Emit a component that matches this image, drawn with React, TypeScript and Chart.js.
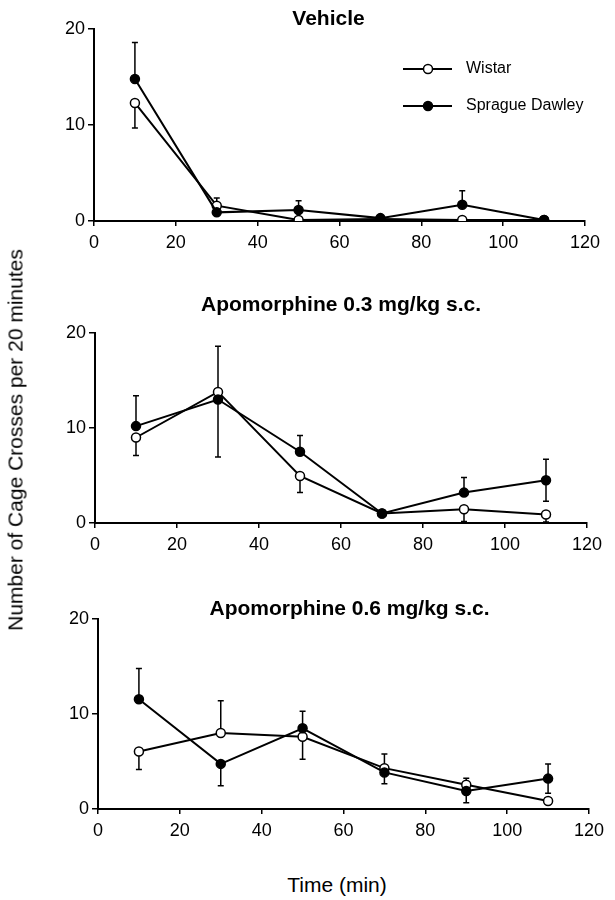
import React, { useEffect, useRef } from "react";
import { Chart, registerables } from "chart.js";

Chart.register(...registerables);

const FONT = "'Liberation Sans', Arial, Helvetica, sans-serif";

// ---------- data ----------
const times = [10, 30, 50, 70, 90, 110];
const xMin = 0;
const xMax = 120;
const xStep = 20;
const yMin = 0;
const yMax = 20;
const yStep = 10;

const seriesNames = ["Wistar", "Sprague Dawley"];
const panelTitles = ["Vehicle", "Apomorphine 0.3 mg/kg s.c.", "Apomorphine 0.6 mg/kg s.c."];
const yAxisTitle = "Number of Cage Crosses per 20 minutes";
const xAxisTitle = "Time (min)";

// Vehicle
const vehWistar = [12.3, 1.6, 0.1, 0.2, 0.1, 0.1];
const vehWistarErrPlus = [0, 0.8, 0, 0, 0, 0];
const vehWistarErrMinus = [2.6, 0, 0, 0, 0, 0];
const vehSD = [14.8, 0.9, 1.15, 0.3, 1.7, 0.1];
const vehSDErrPlus = [3.8, 0, 0.95, 0, 1.45, 0];
const vehSDErrMinus = [0, 0, 0, 0, 0, 0];

// Apomorphine 0.3 mg/kg
const apo03Wistar = [9.0, 13.8, 4.95, 1.0, 1.45, 0.9];
const apo03WistarErrPlus = [0, 4.8, 0, 0, 0, 0];
const apo03WistarErrMinus = [1.9, 0, 1.75, 0, 1.3, 0.8];
const apo03SD = [10.2, 13.0, 7.5, 1.0, 3.2, 4.5];
const apo03SDErrPlus = [3.2, 0, 1.7, 0, 1.6, 2.2];
const apo03SDErrMinus = [0, 6.05, 0, 0, 0, 2.2];

// Apomorphine 0.6 mg/kg
const apo06Wistar = [6.05, 8.0, 7.6, 4.3, 2.55, 0.85];
const apo06WistarErrPlus = [0, 3.4, 0, 1.5, 0.7, 0];
const apo06WistarErrMinus = [1.9, 0, 2.35, 0, 0, 0];
const apo06SD = [11.55, 4.75, 8.5, 3.85, 1.9, 3.2];
const apo06SDErrPlus = [3.25, 0, 1.8, 0, 0, 1.55];
const apo06SDErrMinus = [0, 2.3, 0, 1.2, 1.25, 1.55];

const panelData = [
  {
    wistar: vehWistar, wistarPlus: vehWistarErrPlus, wistarMinus: vehWistarErrMinus,
    sd: vehSD, sdPlus: vehSDErrPlus, sdMinus: vehSDErrMinus,
  },
  {
    wistar: apo03Wistar, wistarPlus: apo03WistarErrPlus, wistarMinus: apo03WistarErrMinus,
    sd: apo03SD, sdPlus: apo03SDErrPlus, sdMinus: apo03SDErrMinus,
  },
  {
    wistar: apo06Wistar, wistarPlus: apo06WistarErrPlus, wistarMinus: apo06WistarErrMinus,
    sd: apo06SD, sdPlus: apo06SDErrPlus, sdMinus: apo06SDErrMinus,
  },
];

// ---------- layout (page pixels) ----------
const panelGeom = [
  { top: 0, h: 265, areaTop: 29, areaBottom: 221, left: 94, right: 585, titleY: 19, titleDx: -11, legend: true },
  { top: 280, h: 290, areaTop: 333, areaBottom: 523, left: 95, right: 587, titleY: 305, titleDx: 0, legend: false },
  { top: 580, h: 275, areaTop: 619, areaBottom: 809, left: 98, right: 589, titleY: 609, titleDx: 6, legend: false },
];
const X_SCALE_H = 30;
const TICK_FONT = 18;

const errorBarsPlugin = {
  id: "errorBars",
  beforeDatasetsDraw(chart: any) {
    const ctx = chart.ctx;
    const xs = chart.scales.x;
    const ys = chart.scales.y;
    ctx.save();
    ctx.strokeStyle = "#000";
    ctx.lineWidth = 1.5;
    chart.data.datasets.forEach((ds: any) => {
      ds.data.forEach((pt: any, i: number) => {
        const x = xs.getPixelForValue(pt.x);
        const y0 = ys.getPixelForValue(pt.y);
        const parts: [number, number][] = [
          [ds.errPlus[i], 1],
          [ds.errMinus[i], -1],
        ];
        parts.forEach(([e, s]) => {
          if (!e) return;
          const y1 = ys.getPixelForValue(pt.y + s * e);
          ctx.beginPath();
          ctx.moveTo(x, y0);
          ctx.lineTo(x, y1);
          ctx.moveTo(x - 3, y1);
          ctx.lineTo(x + 3, y1);
          ctx.stroke();
        });
      });
    });
    ctx.restore();
  },
};

function makeTitlePlugin(text: string, y: number, dx: number) {
  return {
    id: "panelTitle",
    afterDraw(chart: any) {
      const ctx = chart.ctx;
      const a = chart.chartArea;
      ctx.save();
      ctx.fillStyle = "#000";
      ctx.font = `bold 21px ${FONT}`;
      ctx.textAlign = "center";
      ctx.textBaseline = "middle";
      ctx.fillText(text, (a.left + a.right) / 2 + dx, y);
      ctx.restore();
    },
  };
}

const legendPlugin = {
  id: "customLegend",
  afterDraw(chart: any) {
    const ctx = chart.ctx;
    const rows = [69, 106];
    ctx.save();
    chart.data.datasets.forEach((ds: any, i: number) => {
      const y = rows[i];
      ctx.strokeStyle = "#000";
      ctx.lineWidth = 2;
      ctx.beginPath();
      ctx.moveTo(403, y);
      ctx.lineTo(452, y);
      ctx.stroke();
      ctx.beginPath();
      ctx.arc(428, y, 4.5, 0, Math.PI * 2);
      ctx.fillStyle = ds.pointBackgroundColor;
      ctx.fill();
      ctx.lineWidth = 1.5;
      ctx.stroke();
      ctx.fillStyle = "#000";
      ctx.font = `16px ${FONT}`;
      ctx.textAlign = "left";
      ctx.textBaseline = "middle";
      ctx.fillText(ds.label, 466, y);
    });
    ctx.restore();
  },
};

function Panel({ idx }: { idx: number }) {
  const ref = useRef<HTMLCanvasElement>(null);
  const g = panelGeom[idx];
  useEffect(() => {
    const d = panelData[idx];
    const toPts = (vals: number[]) => times.map((t, i) => ({ x: t, y: vals[i] }));
    const plugins: any[] = [errorBarsPlugin, makeTitlePlugin(panelTitles[idx], g.titleY - g.top, g.titleDx)];
    if (g.legend) plugins.push(legendPlugin);
    const chart = new Chart(ref.current as HTMLCanvasElement, {
      type: "line",
      data: {
        datasets: [
          {
            label: seriesNames[0],
            data: toPts(d.wistar),
            errPlus: d.wistarPlus,
            errMinus: d.wistarMinus,
            borderColor: "#000",
            borderWidth: 2,
            pointRadius: 4.5,
            pointBorderWidth: 1.5,
            pointBackgroundColor: "#fff",
            pointBorderColor: "#000",
            tension: 0,
            order: 1,
          } as any,
          {
            label: seriesNames[1],
            data: toPts(d.sd),
            errPlus: d.sdPlus,
            errMinus: d.sdMinus,
            borderColor: "#000",
            borderWidth: 2,
            pointRadius: 4.5,
            pointBorderWidth: 1.5,
            pointBackgroundColor: "#000",
            pointBorderColor: "#000",
            tension: 0,
            order: 0,
          } as any,
        ],
      },
      options: {
        responsive: false,
        animation: false,
        devicePixelRatio: 1,
        layout: {
          padding: {
            left: 0,
            right: 615 - g.right,
            top: g.areaTop - g.top,
            bottom: g.top + g.h - g.areaBottom - X_SCALE_H,
          },
        },
        plugins: {
          legend: { display: false },
          tooltip: { enabled: false },
          title: { display: false },
        },
        scales: {
          x: {
            type: "linear",
            min: xMin,
            max: xMax,
            afterFit: (s: any) => {
              s.height = X_SCALE_H;
            },
            ticks: {
              stepSize: xStep,
              color: "#000",
              padding: 6,
              font: { family: FONT, size: TICK_FONT },
            },
            grid: {
              display: true,
              drawOnChartArea: false,
              drawTicks: true,
              tickLength: 5,
              color: "#000",
              lineWidth: 1.5,
            },
            border: { display: true, color: "#000", width: 2 },
          },
          y: {
            type: "linear",
            min: yMin,
            max: yMax,
            afterFit: (s: any) => {
              s.width = g.left;
            },
            ticks: {
              stepSize: yStep,
              color: "#000",
              padding: 3,
              font: { family: FONT, size: TICK_FONT },
            },
            grid: {
              display: true,
              drawOnChartArea: false,
              drawTicks: true,
              tickLength: 6,
              color: "#000",
              lineWidth: 1.5,
            },
            border: { display: true, color: "#000", width: 2 },
          },
        },
      },
      plugins,
    });
    return () => chart.destroy();
  }, [idx]);
  return (
    <canvas
      ref={ref}
      width={615}
      height={g.h}
      style={{ position: "absolute", left: 0, top: g.top, width: 615, height: g.h }}
    />
  );
}

export default function App() {
  return (
    <div
      style={{
        position: "absolute",
        left: 0,
        top: 0,
        width: 615,
        height: 900,
        background: "#fff",
        fontFamily: FONT,
        color: "#000",
      }}
    >
      <Panel idx={0} />
      <Panel idx={1} />
      <Panel idx={2} />
      <div
        style={{
          position: "absolute",
          left: 15,
          top: 440,
          transform: "translate(-50%, -50%) rotate(-90deg)",
          whiteSpace: "nowrap",
          fontSize: 21,
          lineHeight: 1,
        }}
      >
        {yAxisTitle}
      </div>
      <div
        style={{
          position: "absolute",
          left: 337,
          top: 884,
          transform: "translate(-50%, -50%)",
          whiteSpace: "nowrap",
          fontSize: 21,
          lineHeight: 1,
        }}
      >
        {xAxisTitle}
      </div>
    </div>
  );
}
